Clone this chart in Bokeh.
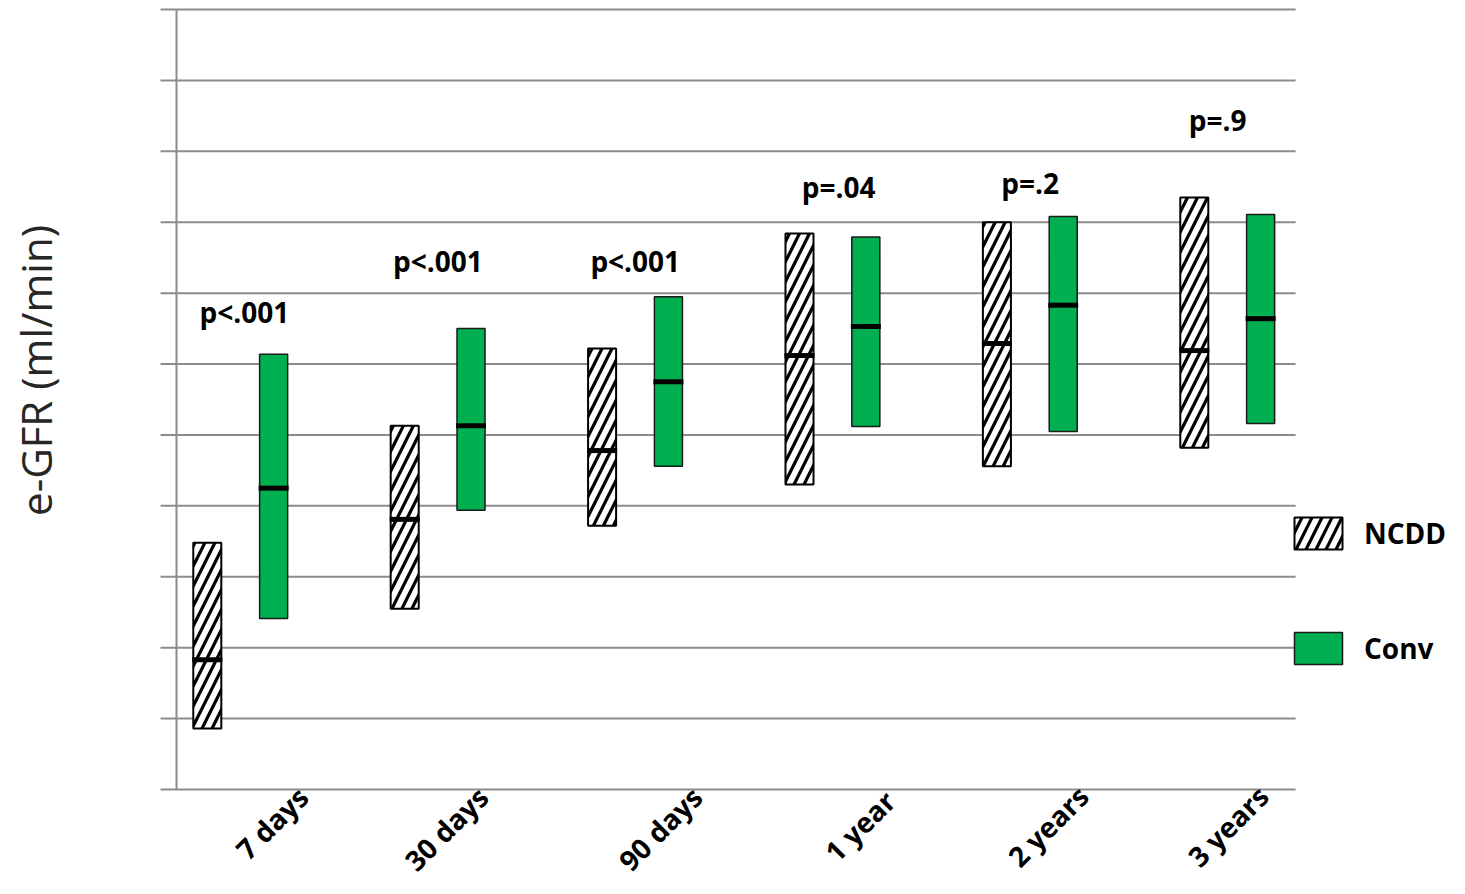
import math
from bokeh.plotting import figure
from bokeh.models import ColumnDataSource, Range1d, Legend, LegendItem
from bokeh.core.properties import value
from bokeh.embed import file_html
from bokeh.resources import INLINE

# ---- data (y in gridline units) ----
categories = ["7 days", "30 days", "90 days", "1 year", "2 years", "3 years"]
ncdd_low = [0.86, 2.55, 3.72, 4.30, 4.56, 4.82]
ncdd_high = [3.48, 5.13, 6.22, 7.84, 8.00, 8.35]
ncdd_median = [1.83, 3.81, 4.78, 6.12, 6.29, 6.19]
conv_low = [2.41, 3.94, 4.56, 5.12, 5.05, 5.16]
conv_high = [6.14, 6.50, 6.95, 7.79, 8.08, 8.11]
conv_median = [4.25, 5.13, 5.75, 6.53, 6.83, 6.64]
p_labels = ["p<.001", "p<.001", "p<.001", "p=.04", "p=.2", "p=.9"]
p_heights = [6.74, 7.46, 7.46, 8.50, 8.56, 9.44]
y_ticks = list(range(12))
y_title = "e-GFR (ml/min)"

# ---- layout / style (not data) ----
FONT = "Open Sans"
GREEN = "#00B050"
GRID = "#8c8c8c"
p_dx = [0.02, 0.0, 0.0, 0.03, 0.0, -0.05]
lab_dx = [0.248, 0.160, 0.244, 0.222, 0.200, 0.112]
lab_y = [0.155, 0.155, 0.155, 0.10, 0.17, 0.17]
X0, X1 = -1.2156, 6.1248      # whole canvas is the plotting frame
Y0, Y1 = -1.255, 11.127
AX = -0.324                    # position of the value axis
GRID_START, GRID_END = -0.405, 5.345

idx = list(range(len(categories)))
off = 0.168
bw = 0.142
x_ncdd = [i - off for i in idx]
x_conv = [i + off for i in idx]
x_p = [i + d for i, d in zip(idx, p_dx)]

p = figure(width=1449, height=878, output_backend="svg", toolbar_location=None,
           x_range=Range1d(X0, X1), y_range=Range1d(Y0, Y1),
           x_axis_location=None, y_axis_location=None,
           min_border_left=0, min_border_right=0, min_border_top=0, min_border_bottom=0)
p.outline_line_color = None
p.background_fill_color = "white"
p.border_fill_color = "white"
p.xgrid.grid_line_color = None
p.ygrid.grid_line_color = None

# horizontal grid lines (with the outside tick stubs) and the value axis
p.segment(x0=[GRID_START] * len(y_ticks), x1=[GRID_END] * len(y_ticks), y0=y_ticks, y1=y_ticks,
          line_color=GRID, line_width=2)
p.segment(x0=[AX], x1=[AX], y0=[y_ticks[0]], y1=[y_ticks[-1]], line_color=GRID, line_width=2)

src_n = ColumnDataSource(dict(x=x_ncdd, top=ncdd_high, bottom=ncdd_low, med=ncdd_median,
                              x0=[x - bw / 2 - 0.005 for x in x_ncdd],
                              x1=[x + bw / 2 + 0.005 for x in x_ncdd]))
src_c = ColumnDataSource(dict(x=x_conv, top=conv_high, bottom=conv_low, med=conv_median,
                              x0=[x - bw / 2 - 0.005 for x in x_conv],
                              x1=[x + bw / 2 + 0.005 for x in x_conv]))

r_n = p.vbar(x="x", top="top", bottom="bottom", width=bw, source=src_n,
             fill_color="white", line_color="black", line_width=2,
             hatch_pattern="/", hatch_color="black", hatch_scale=20, hatch_weight=3.2)
r_c = p.vbar(x="x", top="top", bottom="bottom", width=bw, source=src_c,
             fill_color=GREEN, line_color="#1a1a1a", line_width=1.5)

p.segment(x0="x0", x1="x1", y0="med", y1="med", source=src_n, line_color="black", line_width=5)
p.segment(x0="x0", x1="x1", y0="med", y1="med", source=src_c, line_color="black", line_width=5)

src_p = ColumnDataSource(dict(x=x_p, y=p_heights, t=p_labels))
p.text(x="x", y="y", text="t", source=src_p, text_font=value(FONT), text_font_style="bold",
       text_font_size="28px", text_align="center", text_baseline="middle", text_color="black")

# category labels, rotated, under the axis
src_l = ColumnDataSource(dict(x=[i + d for i, d in zip(idx, lab_dx)], y=lab_y, t=categories))
p.text(x="x", y="y", text="t", source=src_l, angle=math.pi / 4, text_font=value(FONT),
       text_font_style="bold", text_font_size="28px", text_align="right",
       text_baseline="top", text_color="black")

# value-axis title
p.text(x=[-1.04], y=[5.91], text=[y_title], angle=math.pi / 2, text_font=value(FONT),
       text_font_size="42px", text_align="center", text_baseline="middle",
       text_color="#262626")

legend = Legend(items=[LegendItem(label="NCDD", renderers=[r_n]),
                       LegendItem(label="Conv", renderers=[r_c])],
                location=(1288, 210), orientation="vertical",
                glyph_width=60, glyph_height=40, label_height=40, spacing=75,
                label_standoff=16, padding=0, margin=0,
                label_text_font=FONT, label_text_font_style="bold",
                label_text_font_size="28px", label_text_color="black",
                border_line_color=None, background_fill_alpha=0)
p.add_layout(legend, "center")

open("out.html", "w").write(file_html(p, INLINE))
